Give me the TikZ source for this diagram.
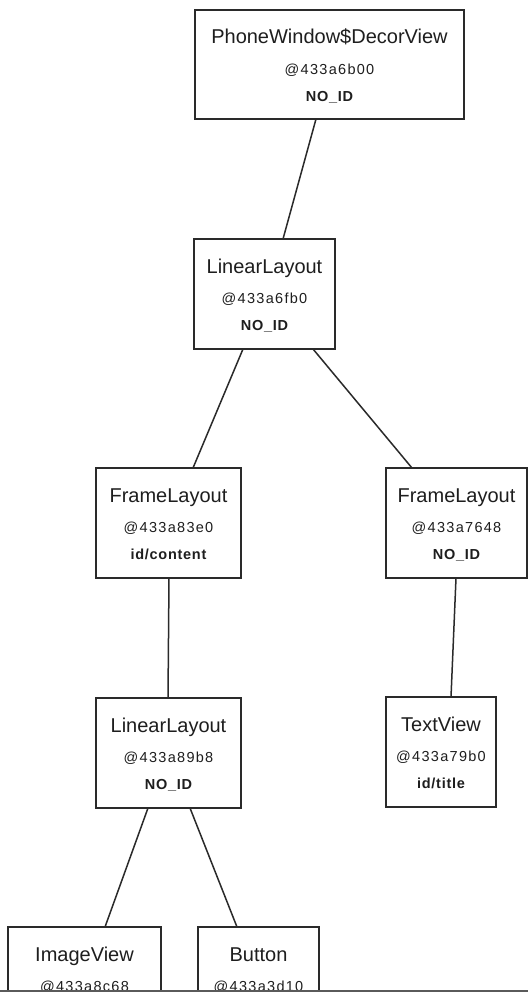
\documentclass[tikz,border=0pt]{standalone}
\usepackage{fontspec}
\setmainfont{Liberation Sans}
\definecolor{ink}{HTML}{1E1E1E}
\definecolor{edge}{HTML}{2A2A2A}
\definecolor{rule}{HTML}{5A5A5A}
\tikzset{
  hvbox/.style={draw=edge, line width=2pt, rectangle, outer sep=0pt, inner sep=0pt},
  conn/.style={draw=edge, line width=1.5pt},
  ttl/.style={anchor=base, inner sep=0pt, text=ink, font=\fontsize{20}{22}\selectfont},
  hsh/.style={anchor=base, inner sep=0pt, text=ink, font=\fontsize{14.5}{16}\selectfont\addfontfeature{LetterSpace=9}},
  vid/.style={anchor=base, inner sep=0pt, text=ink, font=\fontsize{14.5}{16}\bfseries\selectfont\addfontfeature{LetterSpace=5}},
}
\newcommand{\hvnode}[8]{%
  \node[hvbox, minimum width=#4pt, minimum height=#5pt] (#1) at (#2,#3) {};
  \node[ttl] (#1-a) at ([yshift=-34pt]#1.north) {#6};
  \node[hsh] (#1-b) at ([yshift=-64.5pt]#1.north) {#7};
  \node[vid] (#1-c) at ([yshift=-91.5pt]#1.north) {#8};
}
\begin{document}
\begin{tikzpicture}[x=1pt, y=-1pt]
\useasboundingbox (0,0) rectangle (528,992);
\fill[white] (0,0) rectangle (528,992);
\begin{scope}
\clip (0,0) rectangle (528,989.5);
\hvnode{decor}{329.5}{64.5}{269}{109}{PhoneWindow\$DecorView}{@433a6b00}{NO\_ID}
\hvnode{lla}{264.5}{294}{141}{110}{LinearLayout}{@433a6fb0}{NO\_ID}
\hvnode{fla}{168.5}{523}{145}{110}{FrameLayout}{@433a83e0}{id/content}
\hvnode{flb}{456.5}{523}{141}{110}{FrameLayout}{@433a7648}{NO\_ID}
\hvnode{llb}{168.5}{753}{145}{110}{LinearLayout}{@433a89b8}{NO\_ID}
\hvnode{tv}{441}{752}{110}{110}{TextView}{@433a79b0}{id/title}
\hvnode{iv}{84.5}{982}{153}{110}{ImageView}{@433a8c68}{}
\hvnode{btn}{258.5}{982}{121}{110}{Button}{@433a3d10}{}
\draw[conn] ([xshift=-13.5pt]decor.south) -- ([xshift=18.5pt]lla.north);
\draw[conn] ([xshift=-21.5pt]lla.south) -- ([xshift=24.5pt]fla.north);
\draw[conn] ([xshift=48.5pt]lla.south) -- ([xshift=-44.5pt]flb.north);
\draw[conn] ([xshift=0.5pt]fla.south) -- ([xshift=-0.5pt]llb.north);
\draw[conn] ([xshift=-0.5pt]flb.south) -- ([xshift=10pt]tv.north);
\draw[conn] ([xshift=-20.5pt]llb.south) -- ([xshift=20.5pt]iv.north);
\draw[conn] ([xshift=21.5pt]llb.south) -- ([xshift=-21.5pt]btn.north);
\end{scope}
\coordinate (ruleL) at (0,990.5);
\coordinate (ruleR) at (528,990.5);
\draw[rule, line width=2pt] (ruleL) -- (ruleR);
\end{tikzpicture}
\end{document}
